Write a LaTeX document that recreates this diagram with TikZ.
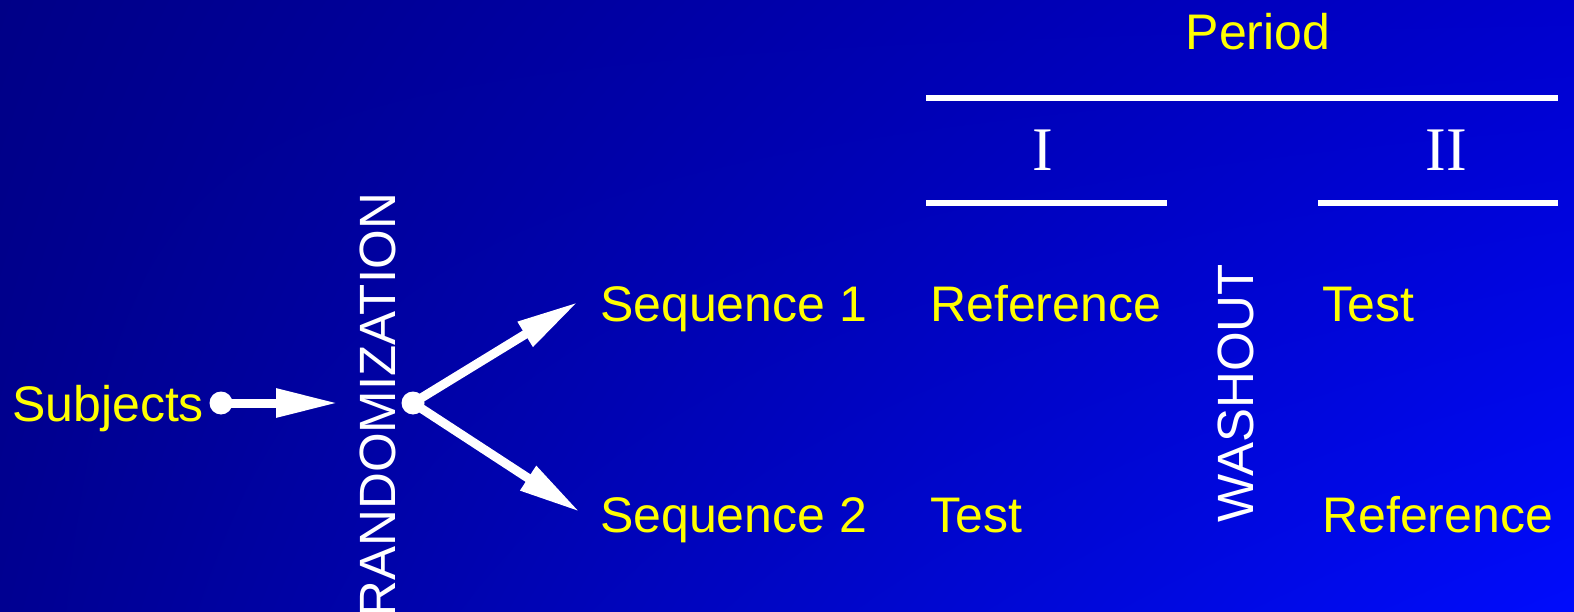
\documentclass[tikz,border=0pt]{standalone}
\usepackage{fontspec}
\setmainfont{Liberation Sans}
\newfontfamily\romanfont{Liberation Serif}
\usetikzlibrary{arrows.meta,shadings}
\definecolor{bgUL}{RGB}{0,0,135}
\definecolor{bgUR}{RGB}{0,0,205}
\definecolor{bgLL}{RGB}{0,0,145}
\definecolor{bgLR}{RGB}{0,12,252}
\definecolor{txtyellow}{RGB}{255,255,0}
\begin{document}
\begin{tikzpicture}[x=1pt,y=-1pt,
  lbl/.style={text=txtyellow, font=\fontsize{50}{56}\selectfont, inner sep=0pt, anchor=base west},
  vlbl/.style={text=white, font=\fontsize{51}{56}\selectfont, inner sep=0pt, rotate=90},
  roman/.style={text=white, font=\romanfont\fontsize{62}{68}\selectfont, inner sep=0pt, anchor=base},
  dot/.style={circle, fill=white, minimum size=23pt, inner sep=0pt},
  arr/.style={draw=white, line width=9pt, -{Triangle[length=62pt,width=27pt]}},
  rule/.style={draw=white, line width=5.5pt}]
\useasboundingbox (0,0) rectangle (1574,612);
\shade[upper left=bgUL, upper right=bgUR, lower left=bgLL, lower right=bgLR] (0,0) rectangle (1574,612);
\clip (0,0) rectangle (1574,612);

% texts
\node[lbl] (subj) at (12,421) {Subjects};
\node[lbl, anchor=base] (period) at (1258,50) {Period};
\node[roman] (p1) at (1043,171) {I};
\node[roman] (p2) at (1446,171) {II};
\node[lbl] (seq1) at (600,321) {Sequence 1};
\node[lbl] (seq2) at (600,532) {Sequence 2};
\node[lbl] (ref1) at (930,321) {Reference};
\node[lbl] (test1) at (1322,321) {Test};
\node[lbl] (test2) at (930,532) {Test};
\node[lbl] (ref2) at (1322,532) {Reference};
\node[vlbl, anchor=base east] (rand) at (395,193) {RANDOMIZATION};
\node[vlbl, anchor=base west] (wash) at (1253,523) {WASHOUT};

% rules
\coordinate (r0a) at (926,98);  \coordinate (r0b) at (1558,98);
\coordinate (r1a) at (926,203); \coordinate (r1b) at (1167,203);
\coordinate (r2a) at (1318,203); \coordinate (r2b) at (1558,203);
\draw[rule] (r0a) -- (r0b);
\draw[rule] (r1a) -- (r1b);
\draw[rule] (r2a) -- (r2b);

% arrows
\node[dot] (d1) at (221,403) {};
\node[dot] (d2) at (413,403) {};
\coordinate (t1) at (338,403);
\coordinate (t2) at (578,302);
\coordinate (t3) at (580,512);
\draw[arr] (d1.center) -- (t1);
\draw[arr] (d2.center) -- (t2);
\draw[arr] (d2.center) -- (t3);
\end{tikzpicture}
\end{document}
